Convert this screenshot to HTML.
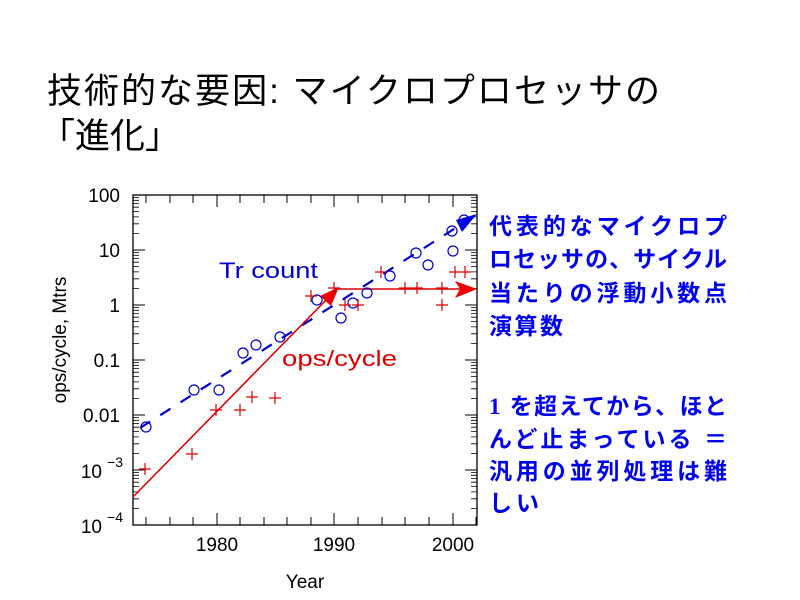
<!DOCTYPE html>
<html><head><meta charset="utf-8"><style>
body{margin:0;background:#fff}
svg{display:block}
.t{font-family:"Liberation Sans","Noto Sans CJK JP",sans-serif}
</style></head><body>
<svg width="800" height="600" xmlns="http://www.w3.org/2000/svg">
<text class="t" x="47" y="103" font-size="35" fill="#000" textLength="613" lengthAdjust="spacing">技術的な要因: マイクロプロセッサの</text>
<text class="t" x="40" y="148" font-size="35" fill="#000">「進化」</text>

<g class="t" font-size="23" font-weight="bold" fill="#0000ee">
<text x="489" y="234" textLength="238" lengthAdjust="spacing">代表的なマイクロプ</text>
<text x="489" y="267" textLength="238" lengthAdjust="spacing">ロセッサの、サイクル</text>
<text x="489" y="301" textLength="238" lengthAdjust="spacing">当たりの浮動小数点</text>
<text x="489" y="334" textLength="74" lengthAdjust="spacing">演算数</text>
<text x="489" y="414" textLength="238" lengthAdjust="spacing"><tspan font-family="Liberation Serif">1</tspan> を超えてから、ほと</text>
<text x="489" y="447" textLength="238" lengthAdjust="spacing">んど止まっている ＝</text>
<text x="489" y="479" textLength="238" lengthAdjust="spacing">汎用の並列処理は難</text>
<text x="489" y="511" textLength="50" lengthAdjust="spacing">しい</text>
</g>

<rect x="133" y="195" width="344" height="330" fill="none" stroke="#000" stroke-width="1.3"/>
<g stroke="#000" stroke-width="1">
<path d="M146 525v-8M170 525v-8M193 525v-8M217 525v-12M240 525v-8M264 525v-8M287 525v-8M311 525v-8M334 525v-12M358 525v-8M382 525v-8M405 525v-8M429 525v-8M453 525v-12M476 525v-8
M146 195v8M170 195v8M193 195v8M217 195v12M240 195v8M264 195v8M287 195v8M311 195v8M334 195v12M358 195v8M382 195v8M405 195v8M429 195v8M453 195v12"/>
<path d="M133 250h12M133 305h12M133 360h12M133 415h12M133 470h12M477 250h-12M477 305h-12M477 360h-12M477 415h-12M477 470h-12"/>
</g>
<g stroke="#000" stroke-width="0.8" id="minor"></g>
<script>
var g=document.getElementById('minor'),d='';
for(var dec=0;dec<6;dec++){var base=525-dec*55;for(var k=2;k<10;k++){var y=(base-Math.log10(k)*55).toFixed(1);d+='M133 '+y+'h6M477 '+y+'h-6';}}
var p=document.createElementNS('http://www.w3.org/2000/svg','path');p.setAttribute('d',d);g.appendChild(p);
</script>

<g class="t" font-size="19" fill="#000" text-anchor="end">
<text x="120" y="202">100</text>
<text x="120" y="257">10</text>
<text x="120" y="312">1</text>
<text x="120" y="367">0.1</text>
<text x="120" y="422">0.01</text>
<text x="102" y="478">10</text><text x="123" y="467" font-size="14">−3</text>
<text x="102" y="533">10</text><text x="123" y="522" font-size="14">−4</text>
</g>
<g class="t" font-size="19" fill="#000" text-anchor="middle">
<text x="217" y="551">1980</text>
<text x="334" y="551">1990</text>
<text x="453" y="551">2000</text>
<text x="305" y="588">Year</text>
<text transform="translate(66,340) rotate(-90)">ops/cycle, Mtrs</text>
</g>

<line x1="140" y1="428" x2="465" y2="222" stroke="#0000cc" stroke-width="2.2" stroke-dasharray="12,12"/>
<polygon points="477,214 456,220 462,232" fill="#0000ee"/>
<line x1="133" y1="497" x2="330" y2="296" stroke="#dd0000" stroke-width="1.6"/>
<polygon points="339,287 320,296 331,306" fill="#ee0000"/>
<line x1="335" y1="289" x2="460" y2="289" stroke="#dd0000" stroke-width="1.6"/>
<polygon points="477,289 455,281 460,289 455,298" fill="#ee0000"/>

<g fill="none" stroke="#0000cc" stroke-width="1.2">
<circle cx="146" cy="427" r="5"/><circle cx="194" cy="390" r="5"/><circle cx="219" cy="390" r="5"/>
<circle cx="243" cy="353" r="5"/><circle cx="256" cy="345" r="5"/><circle cx="280" cy="337" r="5"/>
<circle cx="317" cy="300" r="5"/><circle cx="341" cy="318" r="5"/><circle cx="353" cy="303" r="5"/>
<circle cx="367" cy="293" r="5"/><circle cx="390" cy="276" r="5"/><circle cx="416" cy="253" r="5"/>
<circle cx="428" cy="265" r="5"/><circle cx="453" cy="251" r="5"/><circle cx="452" cy="231" r="5"/>
<circle cx="464" cy="220" r="5"/>
</g>
<g stroke="#dd0000" stroke-width="1.2" id="cr"></g>
<script>
var pts=[[145,469],[192,454],[216,410],[240,410],[252,397],[275,398],[311,296],[334,288],[345,305],[358,305],[381,272],[405,288],[417,288],[442,288],[442,305],[455,272],[465,272]];
var dd='';pts.forEach(function(p){dd+='M'+(p[0]-6)+' '+p[1]+'h12M'+p[0]+' '+(p[1]-6)+'v12';});
var q=document.createElementNS('http://www.w3.org/2000/svg','path');q.setAttribute('d',dd);document.getElementById('cr').appendChild(q);
</script>

<text class="t" x="219" y="278" font-size="22" fill="#0000cc" textLength="99" lengthAdjust="spacingAndGlyphs">Tr count</text>
<text class="t" x="282" y="366" font-size="22" fill="#dd0000" textLength="115" lengthAdjust="spacingAndGlyphs">ops/cycle</text>
</svg>
</body></html>
